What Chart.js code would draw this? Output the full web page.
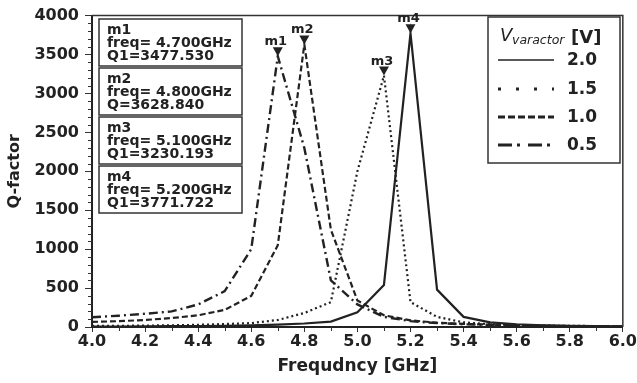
<!DOCTYPE html>
<html>
<head>
<meta charset="utf-8">
<script src="https://cdn.jsdelivr.net/npm/chart.js@4.4.0/dist/chart.umd.min.js"></script>
<style>
html,body{margin:0;padding:0;background:#fff;}
#wrap{width:637px;height:383px;}
</style>
</head>
<body>
<div id="wrap"><canvas id="qchart" width="637" height="383"></canvas></div>
<script>
// frequency sweep, GHz
var freqs = [4.0,4.1,4.2,4.3,4.4,4.5,4.6,4.7,4.8,4.9,5.0,5.1,5.2,5.3,5.4,5.5,5.6,5.7,5.8,5.9,6.0];
// Q-factor per varactor voltage
var q20 = [5,6,8,10,12,16,22,30,45,70,190,540,3771.722,480,130,60,35,22,15,10,8];
var q15 = [15,15,18,22,28,38,50,90,180,320,2000,3230.193,320,130,60,35,25,18,15,12,10];
var q10 = [65,75,90,115,150,220,400,1050,3628.840,1250,340,150,85,55,40,30,22,16,12,10,8];
var q05 = [125,145,170,200,290,460,1000,3477.530,2300,600,290,130,75,50,35,25,18,14,11,9,7];
var voltages = ['2.0','1.5','1.0','0.5'];

// markers
var markerNames = ['m1','m2','m3','m4'];
var markerFreq = [4.7,4.8,5.1,5.2];
var markerQ = [3477.530,3628.840,3230.193,3771.722];
var markerQName = ['Q1','Q','Q1','Q1'];

var ink = '#222';
var fontFam = '"DejaVu Sans", "Liberation Sans", Arial, sans-serif';

function pts(arr){
    return freqs.map(function(f,i){ return {x:f, y:arr[i]}; });
}

var decor = {
    id: 'decor',
    beforeDraw: function(chart){
        var c = chart.ctx;
        c.save();
        c.fillStyle = '#fff';
        c.fillRect(0,0,chart.width,chart.height);
        c.restore();
    },
    afterDraw: function(chart){
        var c = chart.ctx;
        var a = chart.chartArea;
        var xs = chart.scales.x, ys = chart.scales.y;
        c.save();

        // frame
        c.strokeStyle = '#333';
        c.lineWidth = 1.5;
        c.beginPath();
        c.moveTo(a.left, a.top); c.lineTo(a.right, a.top); c.lineTo(a.right, a.bottom);
        c.stroke();

        // minor ticks
        c.strokeStyle = '#333';
        c.lineWidth = 1;
        c.beginPath();
        for (var v = 100; v < 4000; v += 100) {
            if (v % 500 === 0) continue;
            var py = Math.round(ys.getPixelForValue(v)) + 0.5;
            c.moveTo(a.left - 4, py); c.lineTo(a.left, py);
        }
        for (var k = 1; k < 20; k += 2) {
            var px = Math.round(xs.getPixelForValue(4 + k / 10)) + 0.5;
            c.moveTo(px, a.bottom); c.lineTo(px, a.bottom + 4);
        }
        c.stroke();

        // markers on the peaks
        c.fillStyle = ink;
        c.textAlign = 'center';
        c.textBaseline = 'alphabetic';
        c.font = 'bold 13px ' + fontFam;
        for (var i = 0; i < markerNames.length; i++) {
            var mx = xs.getPixelForValue(markerFreq[i]);
            var my = ys.getPixelForValue(markerQ[i]);
            c.beginPath();
            c.moveTo(mx, my);
            c.lineTo(mx - 5, my - 9);
            c.lineTo(mx + 5, my - 9);
            c.closePath();
            c.fill();
            c.fillText(markerNames[i], mx - 2, my - 11);
        }

        // marker readout boxes
        var bx = 99, bw = 143, bh = 47, gap = 2;
        c.textAlign = 'left';
        c.font = 'bold 14px ' + fontFam;
        for (var j = 0; j < markerNames.length; j++) {
            var by = 19 + j * (bh + gap);
            c.fillStyle = '#fff';
            c.fillRect(bx, by, bw, bh);
            c.strokeStyle = '#333';
            c.lineWidth = 1.5;
            c.strokeRect(bx, by, bw, bh);
            c.fillStyle = ink;
            c.fillText(markerNames[j], bx + 8, by + 15);
            c.fillText('freq= ' + markerFreq[j].toFixed(3) + 'GHz', bx + 8, by + 28);
            c.fillText(markerQName[j] + '=' + markerQ[j].toFixed(3), bx + 8, by + 41);
        }

        // legend
        var lx = 488, ly = 17, lw = 132, lh = 146;
        c.fillStyle = '#fff';
        c.fillRect(lx, ly, lw, lh);
        c.strokeStyle = '#333';
        c.lineWidth = 1.5;
        c.strokeRect(lx, ly, lw, lh);
        c.fillStyle = ink;
        c.font = 'italic 18px ' + fontFam;
        c.fillText('V', 500, 41);
        c.font = 'italic 12.5px ' + fontFam;
        c.fillText('varactor', 512, 44);
        c.font = 'bold 18px ' + fontFam;
        c.fillText('[V]', 571, 43);

        var rowY = [60, 89, 117, 145];
        var dashes = [[], [3, 15], [7, 3], [14, 5, 3, 8]];
        var widths = [1.5, 3, 3, 3];
        c.font = 'bold 17px ' + fontFam;
        c.textBaseline = 'middle';
        for (var r = 0; r < voltages.length; r++) {
            c.strokeStyle = ink;
            c.lineWidth = widths[r];
            c.setLineDash(dashes[r]);
            c.beginPath();
            c.moveTo(498, rowY[r]); c.lineTo(554, rowY[r]);
            c.stroke();
            c.setLineDash([]);
            c.fillText(voltages[r], 567, rowY[r] + 1);
        }
        c.restore();
    }
};

new Chart(document.getElementById('qchart'), {
    type: 'line',
    data: {
        datasets: [
            {label: voltages[0], data: pts(q20), borderColor: ink, borderWidth: 2.2, borderDash: []},
            {label: voltages[1], data: pts(q15), borderColor: ink, borderWidth: 2.2, borderDash: [2, 3]},
            {label: voltages[2], data: pts(q10), borderColor: ink, borderWidth: 2.2, borderDash: [6, 3]},
            {label: voltages[3], data: pts(q05), borderColor: ink, borderWidth: 2.4, borderDash: [9, 4, 2, 4]}
        ]
    },
    options: {
        responsive: false,
        animation: false,
        devicePixelRatio: 1,
        layout: {padding: {top: 15, right: 14, left: 0, bottom: 0}},
        elements: {point: {radius: 0}, line: {tension: 0, fill: false}},
        plugins: {legend: {display: false}, tooltip: {enabled: false}},
        scales: {
            x: {
                type: 'linear', min: 4, max: 6,
                afterFit: function(s){ s.height = 56; },
                grid: {drawOnChartArea: false, tickLength: 5, color: '#333'},
                border: {color: ink, width: 2},
                ticks: {stepSize: 0.2, padding: 0, color: ink, maxRotation: 0,
                    font: {family: fontFam, weight: 'bold', size: 16},
                    callback: function(v){ return v.toFixed(1); }},
                title: {display: true, text: 'Frequdncy [GHz]', color: ink,
                    font: {family: fontFam, weight: 'bold', size: 17}, padding: {top: 8, bottom: 6}}
            },
            y: {
                min: 0, max: 4000,
                afterFit: function(s){ s.width = 92; },
                grid: {drawOnChartArea: false, tickLength: 7, color: '#333'},
                border: {color: ink, width: 2},
                ticks: {stepSize: 500, padding: 6, color: ink,
                    font: {family: fontFam, weight: 'bold', size: 16},
                    callback: function(v){ return String(v); }},
                title: {display: true, text: 'Q-factor', color: ink,
                    font: {family: fontFam, weight: 'bold', size: 16}, padding: {top: 5, bottom: 0}}
            }
        }
    },
    plugins: [decor]
});
</script>
</body>
</html>
